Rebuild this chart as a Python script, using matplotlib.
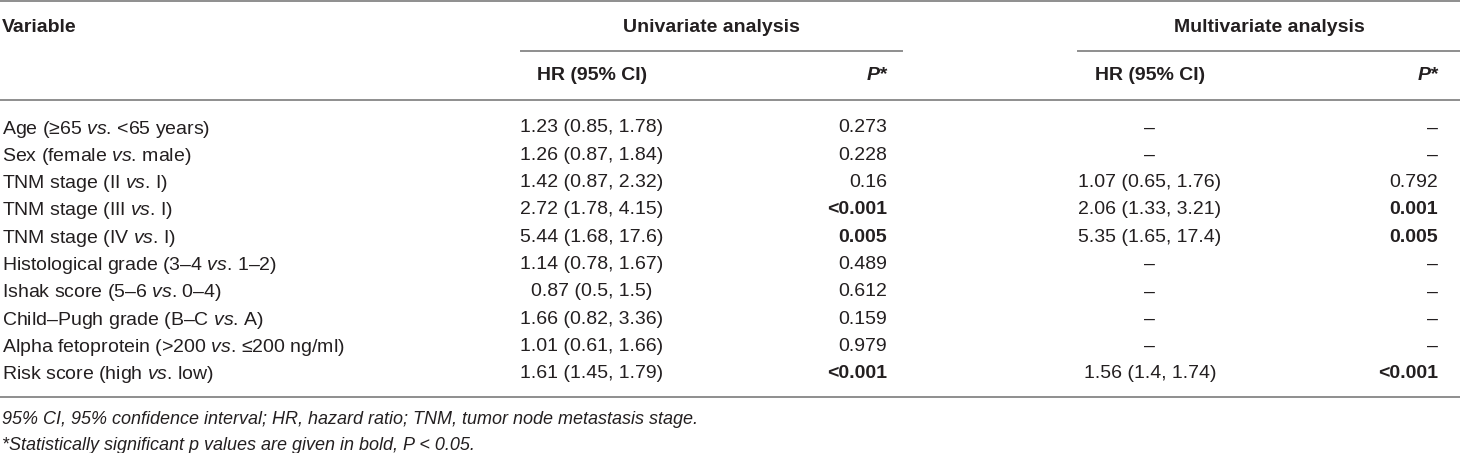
import matplotlib
matplotlib.use("Agg")
import matplotlib.pyplot as plt

plt.rcParams['font.family'] = ['Liberation Sans', 'DejaVu Sans']
plt.rcParams['mathtext.fontset'] = 'custom'
plt.rcParams['mathtext.rm'] = 'Liberation Sans'
plt.rcParams['mathtext.it'] = 'Liberation Sans:italic'
plt.rcParams['mathtext.bf'] = 'Liberation Sans:bold'

# table content
variables = [
    r"Age (≥65 $\mathit{vs}$. <65 years)",
    r"Sex (female $\mathit{vs}$. male)",
    r"TNM stage (II $\mathit{vs}$. I)",
    r"TNM stage (III $\mathit{vs}$. I)",
    r"TNM stage (IV $\mathit{vs}$. I)",
    r"Histological grade (3–4 $\mathit{vs}$. 1–2)",
    r"Ishak score (5–6 $\mathit{vs}$. 0–4)",
    r"Child–Pugh grade (B–C $\mathit{vs}$. A)",
    r"Alpha fetoprotein (>200 $\mathit{vs}$. ≤200 ng/ml)",
    r"Risk score (high $\mathit{vs}$. low)",
]
uni_hr = ["1.23 (0.85, 1.78)", "1.26 (0.87, 1.84)", "1.42 (0.87, 2.32)",
          "2.72 (1.78, 4.15)", "5.44 (1.68, 17.6)", "1.14 (0.78, 1.67)",
          "0.87 (0.5, 1.5)", "1.66 (0.82, 3.36)", "1.01 (0.61, 1.66)",
          "1.61 (1.45, 1.79)"]
uni_p = ["0.273", "0.228", "0.16", "<0.001", "0.005", "0.489",
         "0.612", "0.159", "0.979", "<0.001"]
multi_hr = ["–", "–", "1.07 (0.65, 1.76)", "2.06 (1.33, 3.21)",
            "5.35 (1.65, 17.4)", "–", "–", "–", "–", "1.56 (1.4, 1.74)"]
multi_p = ["–", "–", "0.792", "0.001", "0.005", "–", "–", "–", "–", "<0.001"]
significant = ["<0.001", "0.005", "0.001"]

footnotes = [
    "95% CI, 95% confidence interval; HR, hazard ratio; TNM, tumor node metastasis stage.",
    "*Statistically significant p values are given in bold, P < 0.05.",
]

W, H = 1460, 453
txt = "#231f20"
line_c = "#8e8e8e"
fs = 14

fig = plt.figure(figsize=(W / 100, H / 100), dpi=100)
ax = fig.add_axes([0, 0, 1, 1])
ax.set_xlim(0, W)
ax.set_ylim(H, 0)
ax.axis("off")

# column layout (pixels)
x_var = 2
uni_span = (521, 902)
multi_span = (1078, 1460)
x_uni_hr = 592
x_uni_p = 887
x_multi_hr = 1150
x_multi_p = 1438

# rules
ax.plot([0, W], [1, 1], color=line_c, lw=1.4)
ax.plot(uni_span, [51, 51], color=line_c, lw=1.4)
ax.plot(multi_span, [51, 51], color=line_c, lw=1.4)
ax.plot([0, W], [100, 100], color=line_c, lw=1.4)
ax.plot([0, W], [397, 397], color=line_c, lw=1.4)

# headers
hkw = dict(fontsize=fs, color=txt, fontweight="bold", va="center_baseline")
ax.text(x_var, 26, "Variable", ha="left", **hkw)
ax.text(sum(uni_span) / 2, 26, "Univariate analysis", ha="center", **hkw)
ax.text(sum(multi_span) / 2, 26, "Multivariate analysis", ha="center", **hkw)
ax.text(x_uni_hr, 73, "HR (95% CI)", ha="center", **hkw)
ax.text(x_multi_hr, 73, "HR (95% CI)", ha="center", **hkw)
ax.text(x_uni_p, 73, "P*", ha="right", style="italic", **hkw)
ax.text(x_multi_p, 73, "P*", ha="right", style="italic", **hkw)

# body rows
row0, step = 126, 27.33
for i in range(len(variables)):
    y = row0 + i * step
    kw = dict(fontsize=fs, color=txt, va="center_baseline")
    ax.text(x_var, y, variables[i], ha="left", **kw)
    ax.text(x_uni_hr, y, uni_hr[i], ha="center", **kw)
    ax.text(x_multi_hr, y, multi_hr[i], ha="center", **kw)
    ax.text(x_uni_p, y, uni_p[i], ha="right",
            fontweight="bold" if uni_p[i] in significant else "normal", **kw)
    ax.text(x_multi_p, y, multi_p[i], ha="right",
            fontweight="bold" if multi_p[i] in significant else "normal", **kw)

# footnotes
for j, note in enumerate(footnotes):
    ax.text(x_var, 417 + j * 26, note, ha="left", va="center_baseline",
            fontsize=13, color=txt, style="italic")

fig.savefig("out.png", dpi=100)
